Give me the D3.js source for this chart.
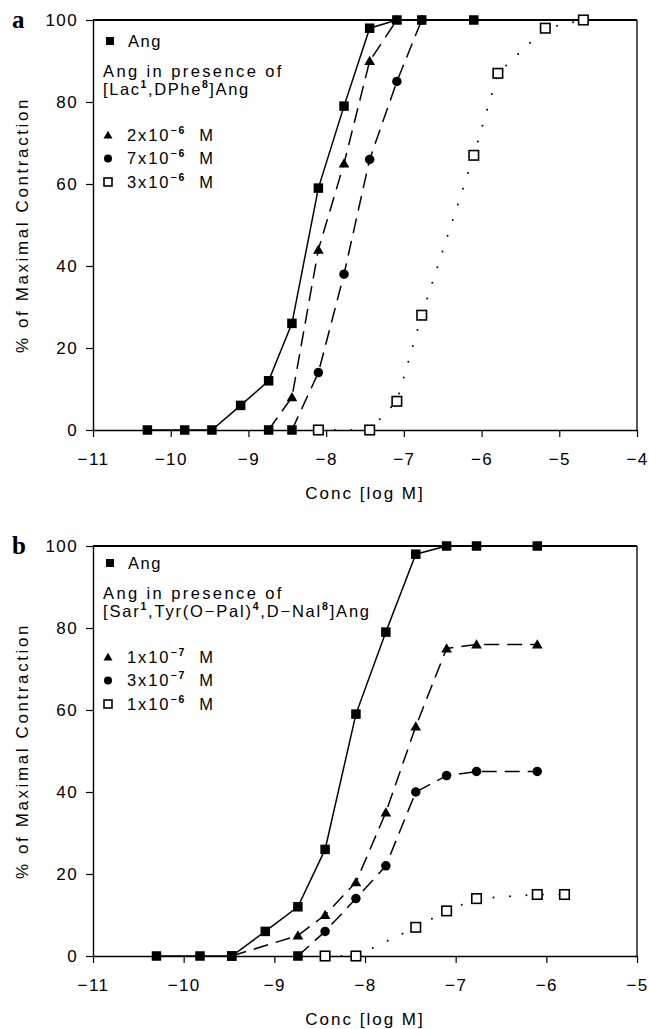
<!DOCTYPE html>
<html>
<head>
<meta charset="utf-8">
<script src="https://cdn.jsdelivr.net/npm/d3@7"></script>
<style>
body{margin:0;background:#fff;}
svg text{font-family:"Liberation Sans",Arial,sans-serif;fill:#000;white-space:pre;}
</style>
</head>
<body>
<svg id="chart" width="649" height="1029"></svg>
<script>
// tick values
var yTicks=[0,20,40,60,80,100]
var xTicksA=[-11,-10,-9,-8,-7,-6,-5,-4]
var xTicksB=[-11,-10,-9,-8,-7,-6,-5]

// panel a : Ang alone and with [Lac1,DPhe8]Ang
var angXa=[-10.3,-9.82,-9.47,-9.1,-8.74,-8.44,-8.1,-7.77,-7.44,-7.09,-6.77,-6.1]
var angYa=[0,0,0,6,12,26,59,79,98,100,100,100]
var triXa=[-8.74,-8.44,-8.1,-7.77,-7.44,-7.09]
var triYa=[0,8,44,65,90,100]
var cirXa=[-8.44,-8.1,-7.77,-7.44,-7.09,-6.77]
var cirYa=[0,14,38,66,85,100]
var opnXa=[-8.1,-7.44,-7.09,-6.77,-6.1,-5.79,-5.18,-4.69]
var opnYa=[0,0,7,28,67,87,98,100]

// panel b : Ang alone and with [Sar1,Tyr(O-Pal)4,D-Nal8]Ang
var angXb=[-10.3,-9.82,-9.47,-9.1,-8.74,-8.44,-8.1,-7.77,-7.44,-7.1,-6.77,-6.1]
var angYb=[0,0,0,6,12,26,59,79,98,100,100,100]
var triXb=[-9.47,-8.74,-8.44,-8.1,-7.77,-7.44,-7.1,-6.77,-6.1]
var triYb=[0,5,10,18,35,56,75,76,76]
var cirXb=[-8.74,-8.44,-8.1,-7.77,-7.44,-7.1,-6.77,-6.1]
var cirYb=[0,6,14,22,40,44,45,45]
var opnXb=[-8.44,-8.1,-7.44,-7.1,-6.77,-6.1,-5.8]
var opnYb=[0,0,7,11,14,15,15]

var legendA={title:["Ang in presence of","[Lac","1",",DPhe","8","]Ang"],conc:[["2x10","−6"],["7x10","−6"],["3x10","−6"]]}
var legendB={title:["Ang in presence of","[Sar","1",",Tyr(O−Pal)","4",",D−Nal","8","]Ang"],conc:[["1x10","−7"],["3x10","−7"],["1x10","−6"]]}

var svg=d3.select("#chart")

function zip(xs,ys){return xs.map((x,i)=>({x:x,y:ys[i]}))}

function drawPanel(cfg){
	var left=93,right=637,top=cfg.top,bottom=cfg.top+410
	var x=d3.scaleLinear().domain(d3.extent(cfg.xTicks)).range([left,right])
	var y=d3.scaleLinear().domain([0,100]).range([bottom,top])
	var g=svg.append("g")

	// frame
	g.append("line").attr("x1",left).attr("x2",right).attr("y1",top).attr("y2",top).attr("stroke","#000").attr("stroke-width",1.8)
	g.append("line").attr("x1",right).attr("x2",right).attr("y1",top).attr("y2",bottom).attr("stroke","#000").attr("stroke-width",1.3)

	var yAxis=d3.axisLeft(y).tickValues(yTicks).tickSize(7).tickPadding(8).tickSizeOuter(0)
	var ya=g.append("g").attr("transform",`translate(${left},0)`).call(yAxis)
	var xAxis=d3.axisBottom(x).tickValues(cfg.xTicks).tickSize(7).tickPadding(16).tickSizeOuter(0)
		.tickFormat(d=>String(d).replace("-","−"))
	var xa=g.append("g").attr("transform",`translate(0,${bottom})`).call(xAxis)
	;[ya,xa].forEach(a=>{
		a.select(".domain").attr("stroke","#000").attr("stroke-width",1.4)
		a.selectAll(".tick line").attr("stroke","#000").attr("stroke-width",1.2)
		a.selectAll(".tick text").attr("font-size",17).attr("letter-spacing",1.4).attr("fill","#000").attr("font-family",null)
	})

	// titles
	g.append("text").attr("x",365).attr("y",bottom+69).attr("text-anchor","middle")
		.attr("font-size",17).attr("letter-spacing",2).text("Conc [log M]")
	g.append("text").attr("transform",`translate(28,${(top+bottom)/2}) rotate(-90)`)
		.attr("text-anchor","middle").attr("font-size",17).attr("letter-spacing",2.6).text("% of Maximal Contraction")
	g.append("text").attr("x",12).attr("y",top+8).attr("font-size",25).attr("font-weight","bold")
		.style("font-family","'Liberation Serif',serif").text(cfg.letter)

	var line=d3.line().x(d=>x(d.x)).y(d=>y(d.y))
	cfg.series.forEach(s=>{
		g.append("path").datum(s.pts).attr("d",line).attr("fill","none").attr("stroke","#000")
			.attr("stroke-width",s.dash==="dot"?2:1.5)
			.attr("stroke-linecap",s.dash==="dot"?"round":"butt")
			.attr("stroke-dasharray",s.dash==="dash"?"15,8":s.dash==="dot"?"0,16.5":null)
	})
	cfg.series.forEach(s=>{
		s.pts.forEach(p=>{
			var shape=p.y===0?"square":s.shape
			drawMarker(g,shape,x(p.x),y(p.y),s.open)
		})
	})

	// legend
	var lx=110,lt=cfg.legendTop
	drawMarker(g,"square",lx,lt,false,8)
	g.append("text").attr("x",lx+18).attr("y",lt).attr("dy","0.35em").attr("font-size",16.5).attr("letter-spacing",1.5).text("Ang")
	g.append("text").attr("x",103).attr("y",lt+30).attr("dy","0.35em").attr("font-size",16.5).attr("letter-spacing",2.4).text(cfg.legend.title[0])
	var t=g.append("text").attr("x",103).attr("y",lt+54).attr("dy","0.35em").attr("font-size",16.5).attr("letter-spacing",cfg.titleSpacing)
	cfg.legend.title.slice(1).forEach((s,i)=>{
		if(i%2===1) t.append("tspan").attr("dy",-7).attr("font-size",10.5).attr("font-weight","bold").text(s)
		else t.append("tspan").attr("dy",i===0?0:7).text(s)
	})
	var shapes=["triangle","circle","square"]
	cfg.legend.conc.forEach((c,i)=>{
		var cy=lt+94+i*23.5
		drawMarker(g,shapes[i],lx-2,cy,i===2,8)
		var tt=g.append("text").attr("x",lx+17).attr("y",cy).attr("dy","0.35em").attr("font-size",16.5).attr("letter-spacing",1.9)
		tt.append("tspan").text(c[0])
		tt.append("tspan").attr("dy",-7).attr("font-size",10.5).attr("font-weight","bold").text(c[1])
		tt.append("tspan").attr("dy",7).text("  M")
	})
}

function drawMarker(g,shape,cx,cy,open,sz){
	sz=sz||9.5
	if(shape==="square"){
		var r=g.append("rect").attr("x",cx-sz/2).attr("y",cy-sz/2).attr("width",sz).attr("height",sz)
		if(open) r.attr("fill","#fff").attr("stroke","#000").attr("stroke-width",1.6)
		else r.attr("fill","#000")
	}else if(shape==="circle"){
		g.append("circle").attr("cx",cx).attr("cy",cy).attr("r",sz/2).attr("fill","#000")
	}else{
		g.append("path").attr("transform",`translate(${cx},${cy+1})`)
			.attr("d",d3.symbol().type(d3.symbolTriangle).size(sz*sz*0.55)()).attr("fill","#000")
	}
}

drawPanel({letter:"a",top:20,xTicks:xTicksA,legendTop:41,legend:legendA,titleSpacing:1.6,series:[
	{pts:zip(opnXa,opnYa),shape:"square",open:true,dash:"dot"},
	{pts:zip(cirXa,cirYa),shape:"circle",dash:"dash"},
	{pts:zip(triXa,triYa),shape:"triangle",dash:"dash"},
	{pts:zip(angXa,angYa),shape:"square",dash:null}
]})
drawPanel({letter:"b",top:546,xTicks:xTicksB,legendTop:563,legend:legendB,titleSpacing:1.8,series:[
	{pts:zip(opnXb,opnYb),shape:"square",open:true,dash:"dot"},
	{pts:zip(cirXb,cirYb),shape:"circle",dash:"dash"},
	{pts:zip(triXb,triYb),shape:"triangle",dash:"dash"},
	{pts:zip(angXb,angYb),shape:"square",dash:null}
]})
</script>
</body>
</html>
